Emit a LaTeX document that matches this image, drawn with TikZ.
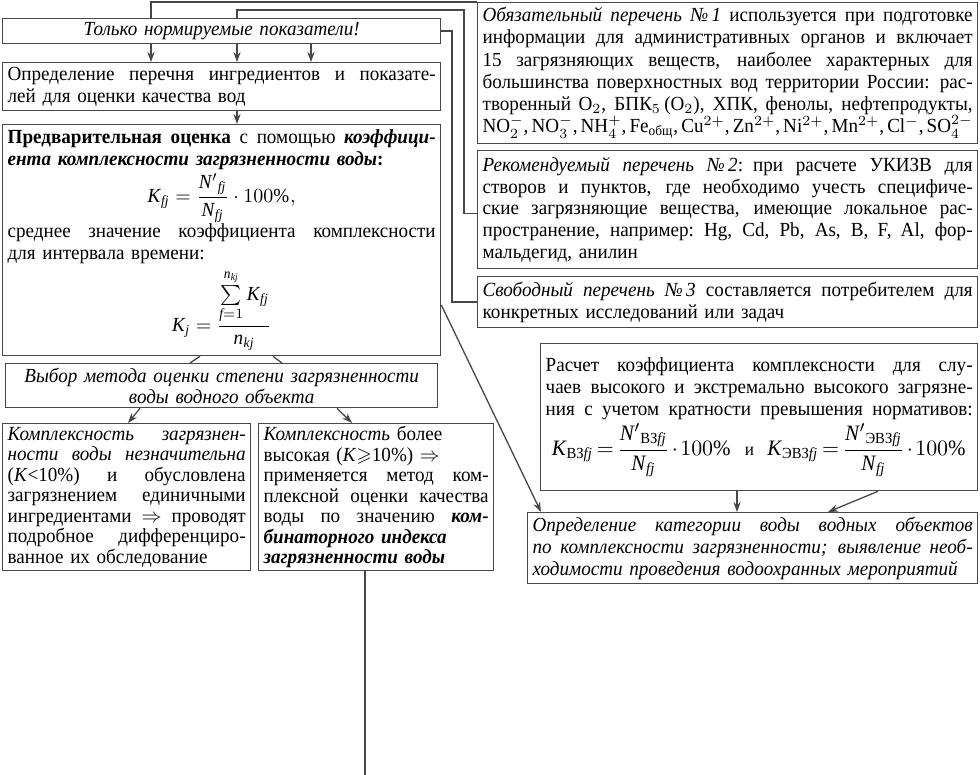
\documentclass[tikz,border=0pt]{standalone}
\usepackage{amsmath,amssymb}
\usepackage{fontspec}
\setmainfont{Liberation Serif}[FakeStretch=0.955]
\usetikzlibrary{arrows.meta,calc}
\setlength\parindent{0pt}
\newcommand\jl[1]{\makebox[\hsize][s]{\spaceskip=0.25em plus 1.5em minus 0.15em\relax #1}}
\newcommand\mi[1]{\mathit{#1}}
\definecolor{lc}{gray}{0.28}
\pgfdeclarelayer{bg}
\pgfsetlayers{bg,main}
\begin{document}
\begin{tikzpicture}[x=0.5pt,y=-0.5pt,
  box/.style={draw=lc, line width=0.65pt, fill=white, anchor=north west,
    inner xsep=2.5pt, inner ysep=0pt, font=\fontsize{10}{11}\selectfont},
  con/.style={draw=lc, line width=0.65pt},
  arr/.style={con, -{Stealth[length=5pt,width=3.6pt]}}]
\useasboundingbox (0,0) rectangle (980,775);

% ---------------- left column
\node[box, text width=214pt, minimum height=12.5pt, align=center] (A) at (2,18)
  {\textit{Только нормируемые показатели!}};
\node[box, text width=214pt, minimum height=24pt] (B) at (2,62)
  {\jl{Определение перечня ингредиентов и показате-}\\
   лей для оценки качества вод};
\node[box, text width=214pt, minimum height=115.5pt] (C) at (2,124)
  {\jl{\textbf{Предварительная оценка} с помощью \textbf{\textit{коэффици-}}}\\
   \textbf{\textit{ента комплексности загрязненности воды}}\textbf{:}\\[1pt]
   \makebox[\hsize]{$\mi{K}_{\mi{fj}}=\dfrac{{\mi{N}'}_{\mi{fj}}}{\mi{N}_{\mi{fj}}}\cdot 100\%,$}\\[0pt]
   \jl{среднее значение коэффициента комплексности}\\
   для интервала времени:\\[2pt]
   \makebox[\hsize]{$\mi{K}_{\mi{j}}=\dfrac{\sum\limits_{\mi{f}=1}^{\mi{n}_{\mi{kj}}}\mi{K}_{\mi{fj}}}{\mi{n}_{\mi{kj}}}$}};
\node[box, text width=211pt, minimum height=22pt, align=center,
  font=\fontsize{10}{10.6}\selectfont] (D) at (5,363)
  {\textit{Выбор метода оценки степени загрязненности}\\
   \textit{воды водного объекта}};
\node[box, text width=119pt, minimum height=73.5pt,
  font=\fontsize{10}{10.25}\selectfont] (E) at (2,423)
  {\jl{\textit{Комплексность загрязнен-}}\\
   \jl{\textit{ности воды незначительна}}\\
   \jl{(\textit{K}<10\%) и обусловлена}\\
   \jl{загрязнением единичными}\\
   \jl{ингредиентами $\Rightarrow$ проводят}\\
   \jl{подробное дифференциро-}\\
   ванное их обследование};
\node[box, text width=112.5pt, minimum height=73.5pt,
  font=\fontsize{10}{10.25}\selectfont] (F) at (258,423)
  {\textit{Комплексность} более\\
   высокая (\textit{K}$\geqslant$10\%) $\Rightarrow$\\
   \jl{применяется метод ком-}\\
   \jl{плексной оценки качества}\\
   \jl{воды по значению \textbf{\textit{ком-}}}\\
   \textbf{\textit{бинаторного индекса}}\\
   \textbf{\textit{загрязненности воды}}};

% ---------------- right column
\node[box, text width=245pt, minimum height=70.5pt,
  font=\fontsize{10}{11.1}\selectfont] (G) at (477,2)
  {\jl{\textit{Обязательный перечень №\,1} используется при подготовке}\\
   \jl{информации для административных органов и включает}\\
   \jl{15 загрязняющих веществ, наиболее характерных для}\\
   \jl{большинства поверхностных вод территории России: рас-}\\
   \jl{творенный O$_2$, БПК$_5$\,(O$_2$), ХПК, фенолы, нефтепродукты,}\\
   \jl{NO$_2^-$, NO$_3^-$, NH$_4^+$, Fe$_{\text{общ}}$, Cu$^{2+}$, Zn$^{2+}$, Ni$^{2+}$, Mn$^{2+}$, Cl$^-$, SO$_4^{2-}$}};
\node[box, text width=245pt, minimum height=59pt,
  font=\fontsize{10}{10.9}\selectfont] (H) at (477,150)
  {\jl{\textit{Рекомендуемый перечень №\,2}: при расчете УКИЗВ для}\\
   \jl{створов и пунктов, где необходимо учесть специфиче-}\\
   \jl{ские загрязняющие вещества, имеющие локальное рас-}\\
   \jl{пространение, например: Hg, Cd, Pb, As, B, F, Al, фор-}\\
   мальдегид, анилин};
\node[box, text width=245pt, minimum height=25.5pt] (I) at (477,276)
  {\jl{\textit{Свободный перечень №\,3} составляется потребителем для}\\
   конкретных исследований или задач};
\node[box, text width=213.5pt, minimum height=73.5pt] (J) at (540,343)
  {\jl{Расчет коэффициента комплексности для слу-}\\
   \jl{чаев высокого и экстремально высокого загрязне-}\\
   \jl{ния с учетом кратности превышения нормативов:}\\[1pt]
   \makebox[\hsize]{\fontsize{11}{12}\selectfont\medmuskip=2mu\thickmuskip=3mu
   $\mi{K}_{\text{ВЗ}\mi{fj}}=\dfrac{{\mi{N}'}_{\text{ВЗ}\mi{fj}}}{\mi{N}_{\mi{fj}}}\cdot100\%$\ \ {\small и}\ \ $\mi{K}_{\text{ЭВЗ}\mi{fj}}=\dfrac{{\mi{N}'}_{\text{ЭВЗ}\mi{fj}}}{\mi{N}_{\mi{fj}}}\cdot100\%$}};
\node[box, text width=220pt, minimum height=35.5pt] (K) at (527,512)
  {\jl{\textit{Определение категории воды водных объектов}}\\
   \jl{\textit{по комплексности загрязненности; выявление необ-}}\\
   \textit{ходимости проведения водоохранных мероприятий}};

% ---------------- connectors
\coordinate (x151) at (151,0);
\coordinate (x237) at (237,0);
\coordinate (x311) at (311,0);
\coordinate (x452) at (452,0);
\coordinate (c1) at (464,10);
\coordinate (fend) at (365,775);
\begin{pgfonlayer}{bg}
\draw[arr] (G.north west) -| (B.north -| x151);
\draw[arr] ([yshift=-2pt]H.west) -| (c1) -| (B.north -| x237);
\draw[con] (I.west) -| (A.east -| x452) -- (A.east);
\draw[arr] (A.south -| x311) -- (B.north -| x311);
\draw[arr] (B.south -| x237) -- (C.north -| x237);
\draw[con] ([xshift=99pt]C.south west) -- ([xshift=92.5pt]D.north west);
\draw[con] ([xshift=135.5pt]C.south west) -- ([xshift=138.5pt]D.north west);
\draw[arr] ([xshift=67.5pt]D.south west) -- ([xshift=63pt]E.north west);
\draw[arr] ([xshift=166pt]D.south west) -- ([xshift=47pt]F.north west);
\draw[con] ([xshift=53.5pt]F.south west) -- (fend);
\draw[arr] ([yshift=-90.5pt]C.north east) -- ([xshift=7pt]K.north west);
\draw[arr] ([xshift=98.5pt]J.south west) -- ([xshift=105pt]K.north west);
\draw[arr] ([xshift=169pt]J.south west) -- ([xshift=150.5pt]K.north west);
\end{pgfonlayer}
\end{tikzpicture}
\end{document}
